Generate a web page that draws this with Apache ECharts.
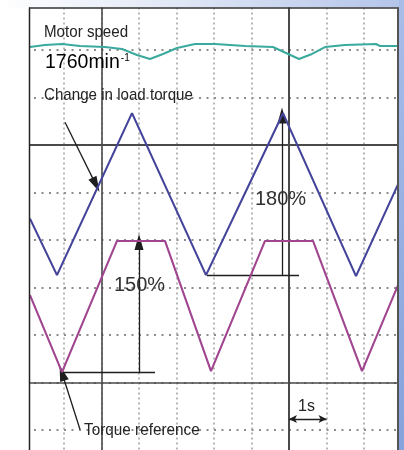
<!DOCTYPE html>
<html>
<head>
<meta charset="utf-8">
<script src="https://cdn.jsdelivr.net/npm/echarts@6/dist/echarts.min.js"></script>
<style>html,body{margin:0;padding:0;background:#fff;}#c{width:404px;height:450px;}</style>
</head>
<body>
<div id="c"></div>
<script>
// time axis: seconds (1 division = 1 s); vertical axis: screen divisions
const speedT = [0.093, 0.493, 0.947, 1.427, 2.093, 2.547, 2.947, 3.293, 3.64, 4.013, 4.493, 5.027, 5.827, 6.573, 6.92, 7.267, 7.613, 7.96, 8.493, 9.32, 9.427, 9.907];
const speedV = [9.063, 9.105, 9.126, 9.084, 9.063, 9.021, 8.895, 8.811, 8.916, 9.042, 9.126, 9.126, 9.084, 9.063, 8.937, 8.811, 8.916, 9.063, 9.105, 9.126, 9.084, 9.084];
const loadT = [0.093, 0.813, 2.813, 4.787, 6.84, 8.787, 9.907];
const loadV = [5.45, 4.26, 7.67, 4.26, 7.67, 4.24, 6.17];
const refT = [0.093, 0.947, 2.413, 3.693, 4.92, 6.36, 7.64, 8.947, 9.907];
const refV = [3.84, 2.22, 4.98, 4.98, 2.24, 4.98, 4.98, 2.24, 4.05];
const solidX = [2, 7];
const solidY = [7, 2];
const labels = {
  speed: 'Motor speed',
  rpm: '1760min',
  rpmSup: '-1',
  load: 'Change in load torque',
  ref: 'Torque reference',
  p180: '180%',
  p150: '150%',
  sec: '1s'
};

const zip = (a, b) => a.map((x, i) => [x, b[i]]);
const chart = echarts.init(document.getElementById('c'), null, {renderer: 'canvas'});

const arrowLine = (from, to, size) => [
  {coord: from, symbol: 'none'},
  {coord: to, symbol: 'triangle', symbolSize: size}
];

const FONT = '"Liberation Sans", Arial, sans-serif';
const txt = (x, y, text, size, sx, color) => ({
  type: 'text', x: x, y: y, scaleX: sx, z: 120,
  style: {text: text, font: size + 'px ' + FONT, fill: color || '#242424', verticalAlign: 'middle', align: 'left'}
});

chart.setOption({
  animation: false,
  backgroundColor: '#ffffff',
  grid: {left: 26.5, top: 2.5, width: 375, height: 475, outerBoundsMode: 'none', containLabel: false},
  xAxis: {
    type: 'value', min: 0, max: 10, interval: 1,
    axisLine: {show: false}, axisTick: {show: false}, axisLabel: {show: false},
    splitLine: {show: true, lineStyle: {color: '#a0a0a0', width: 1.5, type: [2, 3]}}
  },
  yAxis: {
    type: 'value', min: 0, max: 10, interval: 1,
    axisLine: {show: false}, axisTick: {show: false}, axisLabel: {show: false},
    splitLine: {show: true, lineStyle: {color: '#8c8c8c', width: 2, type: [2, 5.5]}}
  },
  series: [
    {
      type: 'line', data: zip(speedT, speedV), symbol: 'none', z: 5,
      lineStyle: {color: '#3aaa9e', width: 2}
    },
    {
      type: 'line', data: zip(loadT, loadV), symbol: 'none', z: 5,
      lineStyle: {color: '#44449a', width: 2.1}
    },
    {
      type: 'line', data: zip(refT, refV), symbol: 'none', z: 5,
      lineStyle: {color: '#a0458f', width: 2.1}
    },
    {
      // solid cursor / reference lines
      type: 'line', data: [], z: 3,
      markLine: {
        silent: true, symbol: ['none', 'none'], label: {show: false},
        lineStyle: {color: '#4a4a4a', width: 1.6, type: 'solid'},
        data: [
          {xAxis: solidX[0]}, {xAxis: solidX[1], lineStyle: {width: 2}},
          {yAxis: solidY[0], lineStyle: {width: 2.2}}, {yAxis: solidY[1]}
        ]
      }
    },
    {
      // annotation arrows
      type: 'line', data: [], z: 8,
      markLine: {
        silent: true, symbol: ['none', 'none'], label: {show: false},
        lineStyle: {color: '#1e1e1e', width: 1.3, type: 'solid'},
        data: [
          arrowLine([1.027, 7.48], [1.853, 6.16], [9, 16]),
          arrowLine([6.813, 4.26], [6.813, 7.62], [9, 16]),
          [{coord: [4.813, 4.26]}, {coord: [7.267, 4.26]}],
          arrowLine([3.0, 2.22], [3.0, 4.96], [9, 16]),
          [{coord: [0.947, 2.22]}, {coord: [3.427, 2.22]}],
          arrowLine([1.427, 1.01], [0.947, 2.2], [9, 16]),
          [{coord: [7.0, 1.23], symbol: 'arrow', symbolSize: [6, 8]}, {coord: [8.0, 1.23], symbol: 'arrow', symbolSize: [6, 8]}]
        ]
      }
    }
  ],
  graphic: [
    {type: 'rect', z: 100, shape: {x: 0, y: 0, width: 29, height: 450}, style: {fill: '#ffffff'}},
    {type: 'rect', z: 100, shape: {x: 0, y: 0, width: 404, height: 7.5},
      style: {fill: new echarts.graphic.LinearGradient(0, 0, 1, 0, [
        {offset: 0, color: '#ffffff'}, {offset: 0.45, color: '#dfe6f5'}, {offset: 1, color: '#b3c4ea'}])}},
    {type: 'rect', z: 100, shape: {x: 399, y: 0, width: 5, height: 450},
      style: {fill: new echarts.graphic.LinearGradient(0, 0, 0, 1, [
        {offset: 0, color: '#a9bde8'}, {offset: 1, color: '#86a2dc'}])}},
    {type: 'line', z: 110, shape: {x1: 29.5, y1: 7.5, x2: 29.5, y2: 450}, style: {stroke: '#222', lineWidth: 1.5}},
    {type: 'line', z: 110, shape: {x1: 29, y1: 8, x2: 399, y2: 8}, style: {stroke: '#333', lineWidth: 1.5}},
    {type: 'line', z: 110, shape: {x1: 398, y1: 8, x2: 398, y2: 450}, style: {stroke: '#555', lineWidth: 2}},
    txt(44, 32, labels.speed, 17, 0.89),
    {
      type: 'text', x: 45, y: 62.8, z: 120,
      style: {
        text: '{a|' + labels.rpm + '}{s|' + labels.rpmSup + '}', verticalAlign: 'middle', align: 'left',
        rich: {
          a: {fontFamily: FONT, fontSize: 19.5, color: '#222'},
          s: {fontFamily: FONT, fontSize: 10, color: '#222', verticalAlign: 'top', padding: [0, 0, 10, 1]}
        }
      }
    },
    txt(44, 95.5, labels.load, 17, 0.89),
    txt(255, 199, labels.p180, 20, 1, '#333'),
    txt(114, 285.5, labels.p150, 20, 1, '#333'),
    txt(84, 430.5, labels.ref, 17, 0.9),
    txt(298, 407, labels.sec, 16, 1)
  ]
});
</script>
</body>
</html>
